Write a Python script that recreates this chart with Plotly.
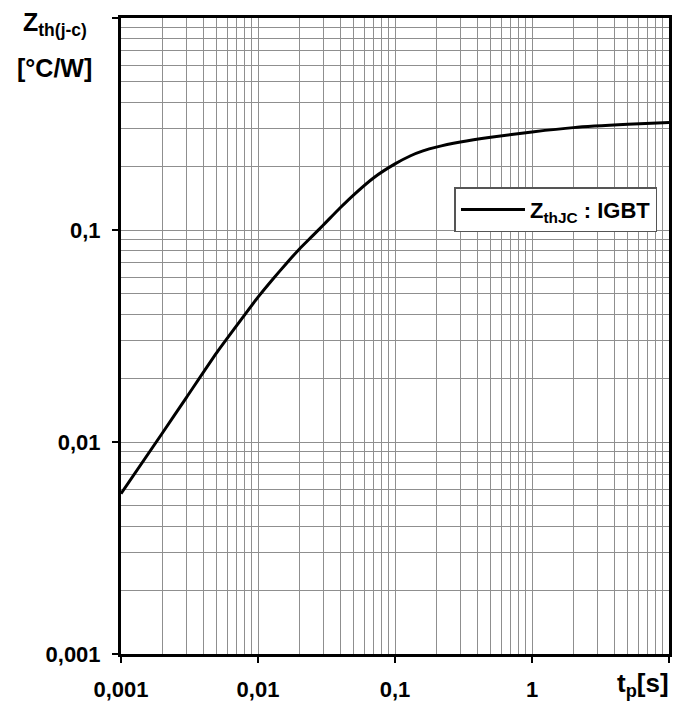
import plotly.graph_objects as go

# Data
t_p = [0.001, 0.002, 0.003, 0.005, 0.008, 0.01, 0.013, 0.016, 0.02, 0.025,
       0.03, 0.04, 0.05, 0.07, 0.1, 0.13, 0.16, 0.2, 0.3, 0.5, 1, 2, 5, 10]
zth = [0.0057, 0.0110, 0.0162, 0.0264, 0.0398, 0.0482, 0.0592, 0.0692, 0.0812,
       0.0938, 0.1056, 0.1277, 0.1466, 0.1765, 0.2050, 0.2240, 0.2360, 0.2460,
       0.2600, 0.2740, 0.2900, 0.3040, 0.3150, 0.3210]

x_tickvals = [0.001, 0.01, 0.1, 1, 10]
x_ticktext = ["0,001", "0,01", "0,1", "1", ""]
y_tickvals = [0.001, 0.01, 0.1, 1]
y_ticktext = ["0,001", "0,01", "0,1", ""]

x_decades = [0.001, 0.01, 0.1, 1]
y_decades = [0.001, 0.01, 0.1]
x_minor = [d * k for d in x_decades for k in range(2, 10)]
y_minor = [d * k for d in y_decades for k in range(2, 10)]

FONT = "Liberation Sans, Arial, sans-serif"
GRID = "#8f8f8f"

fig = go.Figure()
fig.add_trace(go.Scatter(
    x=t_p, y=zth, mode="lines",
    line=dict(color="black", width=3, shape="spline", smoothing=0.6),
    name="Z<sub>thJC</sub> : IGBT",
))

axis_common = dict(
    type="log", showline=True, linecolor="black", linewidth=3, mirror=True,
    ticks="outside", ticklen=6, tickwidth=1.5, tickcolor="black",
    showgrid=True, gridcolor=GRID, gridwidth=1, zeroline=False,
    automargin=False,
    tickfont=dict(family=FONT, size=22, color="black", weight="bold"),
)

fig.update_xaxes(
    **axis_common,
    range=[-3, 1], tickmode="array", tickvals=x_tickvals, ticktext=x_ticktext,
    ticklabelstandoff=8,
    minor=dict(tickmode="array", tickvals=x_minor, showgrid=True,
               gridcolor=GRID, gridwidth=1, ticks=""),
)
fig.update_yaxes(
    **axis_common,
    range=[-3, 0], tickmode="array", tickvals=y_tickvals, ticktext=y_ticktext,
    ticklabelstandoff=7,
    minor=dict(tickmode="array", tickvals=y_minor, showgrid=True,
               gridcolor=GRID, gridwidth=1, ticks=""),
)

fig.add_annotation(
    xref="paper", yref="paper", x=-0.183, y=0.99, xanchor="left", yanchor="middle",
    text="Z<sub>th(j-c)</sub>", showarrow=False,
    font=dict(family=FONT, size=25, color="black", weight="bold"),
)
fig.add_annotation(
    xref="paper", yref="paper", x=-0.193, y=0.921, xanchor="left", yanchor="middle",
    text="[°C/W]", showarrow=False,
    font=dict(family=FONT, size=25, color="black", weight="bold"),
)
fig.add_annotation(
    xref="paper", yref="paper", x=1.003, y=-0.048, xanchor="right", yanchor="middle",
    text="t<sub>p</sub>[s]", showarrow=False,
    font=dict(family=FONT, size=26, color="black", weight="bold"),
)

fig.update_layout(
    width=675, height=702,
    margin=dict(l=121, r=6, t=18, b=48),
    paper_bgcolor="white", plot_bgcolor="white",
    showlegend=True,
    legend=dict(
        x=0.979, y=0.734, xanchor="right", yanchor="top",
        bgcolor="white", bordercolor="#555555", borderwidth=1.5,
        itemwidth=64,
        font=dict(family=FONT, size=22, color="black", weight="bold"),
    ),
)

fig.write_html("out.html")
